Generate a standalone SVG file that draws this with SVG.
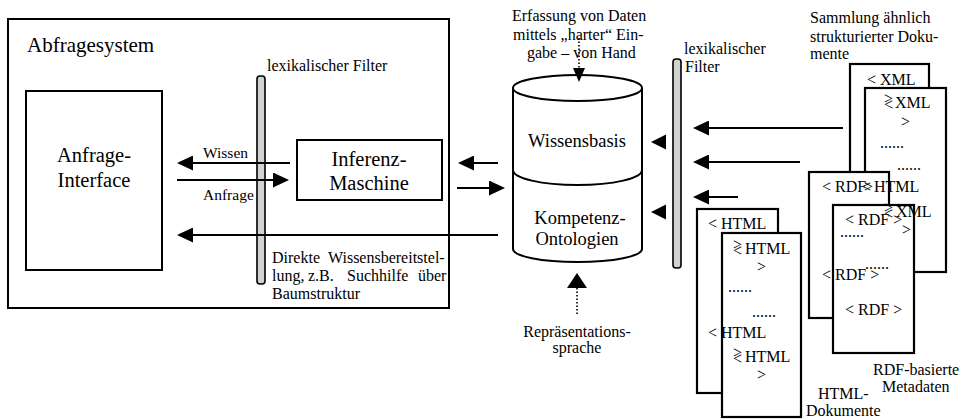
<svg xmlns="http://www.w3.org/2000/svg" width="959" height="419" viewBox="0 0 959 419" font-family="Liberation Serif, serif" font-size="16">
  <defs>
    <!-- solid filled arrowhead shared by all flow arrows -->
    <marker id="pfeil" viewBox="0 0 16 15" refX="12" refY="7.5" markerWidth="16" markerHeight="15" markerUnits="userSpaceOnUse" orient="auto">
      <path d="M0,0 L16,7.5 L0,15 z" fill="#000"/>
    </marker>
    <path id="spitze" d="M0,0 L15,-7.5 L15,7.5 z" fill="#000"/>
  </defs>

  <!-- query system frame -->
  <g id="abfragesystem">
    <rect x="8" y="19" width="441" height="289" fill="#fff" stroke="#000" stroke-width="2"/>
    <text x="27" y="52" font-family="Liberation Serif" font-size="21">Abfragesystem</text>
  </g>

  <!-- lexical filters -->
  <g id="filter-links" font-family="Liberation Serif">
    <rect x="257" y="76" width="8" height="208" rx="3" fill="#d2d2d2" stroke="#000" stroke-width="1.6"/>
    <text x="267" y="71">lexikalischer Filter</text>
  </g>
  <g id="filter-rechts" font-family="Liberation Serif">
    <rect x="673" y="59" width="8" height="209" rx="3" fill="#d2d2d2" stroke="#000" stroke-width="1.6"/>
    <text x="684" y="54">lexikalischer</text>
    <text x="685" y="72">Filter</text>
  </g>

  <g id="anfrage-interface" font-family="Liberation Serif" font-size="20.5" text-anchor="middle">
    <rect x="26" y="91" width="136" height="179" fill="#fff" stroke="#000" stroke-width="2"/>
    <text x="94" y="162">Anfrage-</text>
    <text x="94" y="187">Interface</text>
  </g>

  <g id="inferenz-maschine" font-family="Liberation Serif" font-size="20.5" text-anchor="middle">
    <rect x="297" y="140" width="145" height="60" fill="#fff" stroke="#000" stroke-width="2"/>
    <text x="369" y="166">Inferenz-</text>
    <text x="369" y="190">Maschine</text>
  </g>

  <!-- knowledge base cylinder -->
  <g id="wissensbasis" font-family="Liberation Serif" font-size="18.5" text-anchor="middle" stroke-width="2">
    <path d="M513,88 L513,249 A64.5,13 0 0 0 642,249 L642,88" fill="#fff" stroke="#000"/>
    <ellipse cx="577.5" cy="88" rx="64.5" ry="13" fill="#fff" stroke="#000"/>
    <path d="M513,170 A64.5,15 0 0 0 642,170" fill="none" stroke="#000"/>
    <text x="577" y="147">Wissensbasis</text>
    <text x="580" y="224">Kompetenz-</text>
    <text x="577" y="245">Ontologien</text>
  </g>

  <g id="erfassung" font-family="Liberation Serif">
    <text x="512" y="21">Erfassung von Daten</text>
    <text x="513" y="40">mittels „harter“ Ein-</text>
    <text x="527" y="58">gabe – von Hand</text>
  </g>

  <g id="repraesentationssprache" font-family="Liberation Serif" text-anchor="middle">
    <text x="577" y="337">Repräsentations-</text>
    <text x="577" y="353">sprache</text>
  </g>

  <g id="direkte-bereitstellung" font-family="Liberation Serif">
    <text y="263"><tspan x="272">Direkte</tspan><tspan x="328">Wissensbereitstel-</tspan></text>
    <text y="281"><tspan x="272">lung,</tspan><tspan x="308">z.B.</tspan><tspan x="347">Suchhilfe</tspan><tspan x="418">über</tspan></text>
    <text x="272" y="299">Baumstruktur</text>
  </g>

  <!-- document stacks -->
  <g id="xml-dokumente" fill="#fff" stroke="#000" stroke-width="2.2">
    <rect x="850" y="64" width="79" height="120"/>
    <rect x="865" y="88" width="81" height="184"/>
  </g>
  <g id="rdf-metadaten" font-family="Liberation Serif">
    <g fill="#fff" stroke="#000" stroke-width="2.2">
      <rect x="809" y="172" width="80" height="146"/>
      <rect x="833" y="205" width="81" height="148"/>
    </g>
    <text x="873" y="375">RDF-basierte</text>
    <text x="882" y="392">Metadaten</text>
  </g>
  <g id="html-dokumente" font-family="Liberation Serif">
    <g fill="#fff" stroke="#000" stroke-width="2.2">
      <rect x="697" y="209" width="81" height="184"/>
      <rect x="722" y="233" width="79" height="184"/>
    </g>
    <text x="818" y="399">HTML-</text>
    <text x="806" y="416">Dokumente</text>
  </g>

  <g id="sammlung" font-family="Liberation Serif">
    <text x="810" y="23">Sammlung ähnlich</text>
    <text x="810" y="42">strukturierter Doku-</text>
    <text x="810" y="59">mente</text>
  </g>

  <!-- document contents (tags print over one another where the pages overlap) -->
  <g id="dokument-inhalte" font-family="Liberation Serif">
    <text x="867" y="85">&lt; XML</text>
    <text><tspan x="884" y="104">&gt;</tspan><tspan x="884" y="110">&lt;</tspan><tspan x="895" y="108">XML</tspan></text>
    <text x="901" y="127">&gt;</text>
    <text x="880" y="148">......</text>
    <text x="897" y="170">......</text>

    <text y="192"><tspan x="822">&lt; RDF</tspan><tspan x="862">&lt;</tspan><tspan x="864">&gt;</tspan><tspan x="874">HTML</tspan></text>
    <text><tspan x="884" y="213">&gt;</tspan><tspan x="884" y="219">&lt;</tspan><tspan x="896" y="217">XML</tspan></text>
    <text x="902" y="235">&gt;</text>

    <text x="845" y="225">&lt; RDF &gt;</text>
    <text x="840" y="237">......</text>
    <text x="865" y="269">......</text>
    <text x="822" y="280">&lt; RDF &gt;</text>
    <text x="845" y="315">&lt; RDF &gt;</text>

    <text x="708" y="229">&lt; HTML</text>
    <text><tspan x="733" y="250">&gt;</tspan><tspan x="733" y="256">&lt;</tspan><tspan x="745" y="254">HTML</tspan></text>
    <text x="757" y="272">&gt;</text>
    <text x="728" y="292">......</text>
    <text x="752" y="317">......</text>
    <text x="708" y="338">&lt; HTML</text>
    <text><tspan x="733" y="358">&gt;</tspan><tspan x="733" y="364">&lt;</tspan><tspan x="745" y="362">HTML</tspan></text>
    <text x="757" y="380">&gt;</text>
  </g>

  <!-- connectors -->
  <g id="verbindungen" font-family="Liberation Serif" font-size="15.5">
    <g stroke="#000" stroke-width="2" fill="none" marker-end="url(#pfeil)">
      <!-- Wissen: Inferenz -> Interface -->
      <line x1="290" y1="163" x2="181" y2="163"/>
      <!-- Anfrage: Interface -> Inferenz -->
      <line x1="177" y1="180" x2="285" y2="180"/>
      <!-- direct path from the knowledge base -->
      <line x1="498" y1="235" x2="181" y2="235"/>
      <!-- Inferenz <-> Wissensbasis -->
      <line x1="498" y1="163" x2="462" y2="163"/>
      <line x1="457" y1="188" x2="501" y2="188"/>
      <!-- documents into the filter -->
      <line x1="843" y1="128" x2="697" y2="128"/>
      <line x1="800" y1="162" x2="697" y2="162"/>
      <line x1="738" y1="197" x2="697" y2="197"/>
    </g>
    <text x="203" y="158">Wissen</text>
    <text x="203" y="200">Anfrage</text>
    <!-- filtered input into the knowledge base -->
    <use href="#spitze" x="651" y="142"/>
    <use href="#spitze" x="651" y="212"/>
    <!-- manual input -->
    <line x1="579" y1="38" x2="579" y2="70" stroke="#000" stroke-width="1.6" stroke-dasharray="1.5 2"/>
    <polygon points="579,82 573,68 585,68" fill="#000"/>
    <!-- representation language -->
    <line x1="577" y1="288" x2="577" y2="315" stroke="#000" stroke-width="1.6" stroke-dasharray="1.5 2"/>
    <polygon points="577,273 567,288 587,288" fill="#000"/>
  </g>
</svg>
